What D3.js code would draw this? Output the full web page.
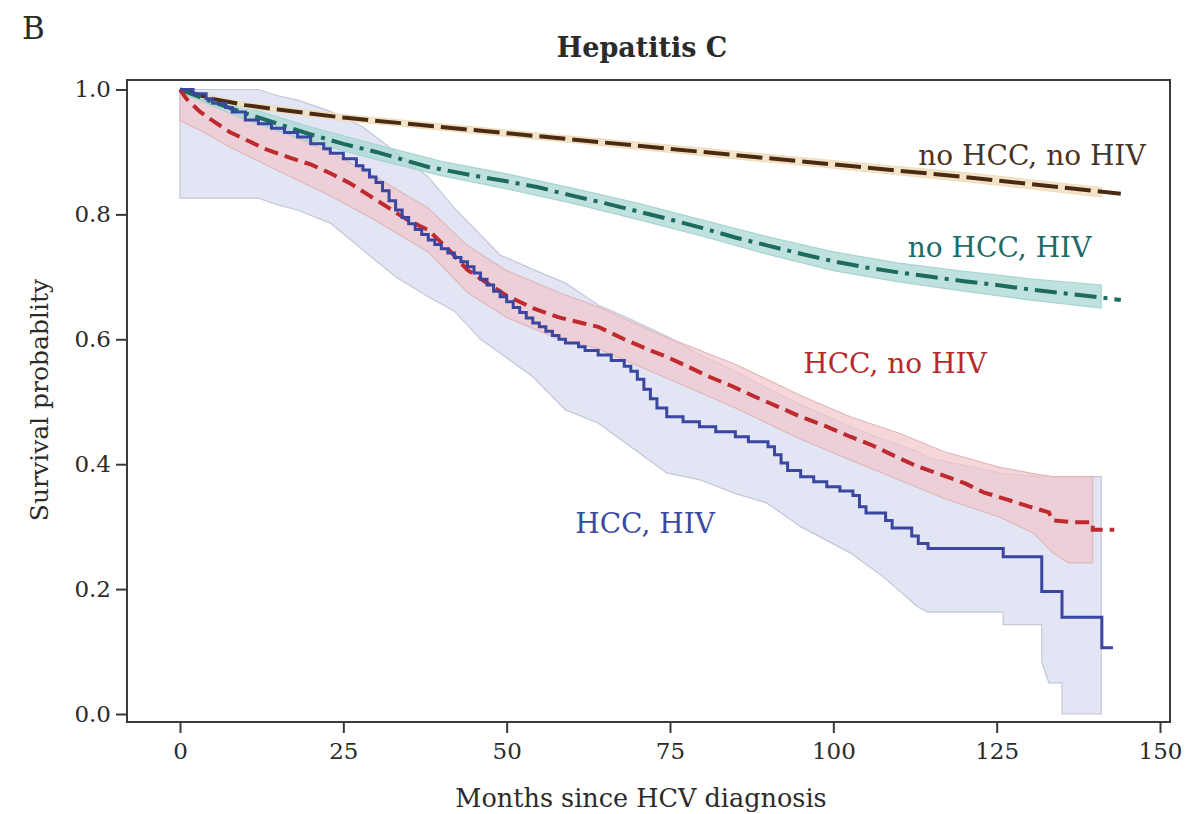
<!DOCTYPE html>
<html>
<head>
<meta charset="utf-8">
<script src="https://cdn.jsdelivr.net/npm/d3@7"></script>
<style>
  body { margin: 0; background: #fff; }
  svg text { font-family: "DejaVu Serif", "Liberation Serif", serif; fill: #2b2b2b; }
  .tick text { font-size: 23px; }
</style>
</head>
<body>
<div id="chart"></div>
<script>
// Kaplan-Meier estimates: [month, survival]
const hccHiv = [[0,1.0],[2,0.993],[4,0.985],[5,0.978],[7,0.971],[8,0.964],[10,0.951],[12,0.945],[14,0.938],[16,0.931],[18,0.924],[20,0.913],[22,0.905],[23,0.898],[25,0.889],[27,0.878],[28,0.871],[29,0.86],[30,0.851],[31,0.838],[32,0.822],[33,0.807],[34,0.795],[35,0.785],[36,0.776],[37,0.768],[38,0.759],[39,0.752],[40,0.745],[41,0.738],[42,0.731],[43,0.724],[44,0.716],[45,0.706],[46,0.696],[47,0.687],[48,0.677],[49,0.668],[50,0.66],[51,0.651],[52,0.643],[53,0.634],[54,0.626],[55,0.62],[56,0.613],[57,0.606],[58,0.6],[59,0.594],[61,0.588],[62,0.582],[64,0.575],[66,0.566],[68,0.557],[69,0.549],[70,0.536],[71,0.52],[72,0.505],[73,0.49],[74.5,0.476],[77,0.468],[79.5,0.46],[82,0.452],[85,0.444],[87,0.436],[90,0.428],[91,0.415],[92,0.402],[93,0.39],[95,0.38],[97,0.372],[99,0.364],[101,0.357],[103,0.35],[104,0.332],[105,0.322],[108,0.31],[109,0.298],[112,0.285],[113,0.273],[114.5,0.265],[126,0.252],[131.9,0.196],[135,0.155],[141.1,0.106],[142.8,0.106]];
const hccNoHiv = [[0,1.0],[1,0.985],[3,0.965],[5,0.95],[7.6,0.932],[10,0.92],[13,0.905],[17,0.89],[20,0.88],[23,0.866],[26,0.85],[29,0.83],[32,0.81],[35,0.79],[38,0.775],[41,0.745],[44,0.711],[47,0.69],[50,0.67],[54,0.65],[58,0.635],[62,0.625],[64,0.62],[68,0.6],[72,0.582],[74.5,0.572],[78,0.555],[81,0.54],[84.7,0.524],[88,0.508],[92,0.49],[95,0.476],[99,0.46],[102.6,0.444],[106,0.43],[110,0.41],[113,0.396],[116,0.385],[120,0.37],[123,0.355],[127,0.342],[130,0.332],[133,0.323],[133.5,0.31],[137,0.307],[139.7,0.307],[139.7,0.295],[143,0.295]];
const noHccHiv = [[0,1.0],[5,0.98],[10,0.962],[15,0.945],[20,0.928],[25,0.913],[30,0.9],[38,0.876],[45,0.862],[50,0.853],[55,0.843],[60,0.83],[65,0.818],[70,0.805],[75,0.792],[80,0.778],[85,0.763],[90,0.75],[95,0.737],[100,0.725],[105,0.715],[110,0.707],[115,0.7],[120,0.693],[125,0.687],[130,0.68],[135,0.674],[140,0.668],[144,0.663]];
const noHccNoHiv = [[0,1.0],[5,0.985],[10,0.975],[15,0.968],[25,0.955],[40,0.94],[60,0.92],[80,0.9],[100,0.88],[120,0.86],[144,0.833]];

// confidence bands: [month, lower, upper]
const hccHivBand = [[0,0.826,1.0],[12,0.826,1.0],[15,0.815,0.99],[18,0.807,0.983],[23,0.786,0.965],[28,0.743,0.94],[33,0.7,0.9],[38,0.668,0.86],[42,0.645,0.81],[46,0.6,0.767],[49,0.578,0.735],[54,0.54,0.712],[59,0.487,0.69],[64,0.466,0.655],[69,0.428,0.632],[74.5,0.386,0.605],[79.6,0.375,0.575],[84.7,0.354,0.55],[89.8,0.338,0.522],[95,0.3,0.495],[102.6,0.258,0.46],[107.6,0.22,0.44],[113,0.171,0.42],[114.5,0.163,0.41],[126,0.163,0.385],[126,0.143,0.385],[131.9,0.143,0.38],[131.9,0.083,0.38],[133,0.05,0.38],[135,0.05,0.38],[135,0.0,0.38],[141,0.0,0.38]];
const hccNoHivBand = [[0,0.95,1.0],[3,0.935,0.985],[7.6,0.908,0.962],[15,0.87,0.935],[23,0.83,0.9],[30,0.79,0.86],[38,0.74,0.81],[44,0.675,0.75],[50,0.635,0.71],[58,0.6,0.675],[64,0.585,0.652],[74,0.54,0.605],[85,0.49,0.56],[95,0.44,0.51],[102.6,0.407,0.476],[110,0.375,0.45],[117,0.345,0.42],[125.5,0.315,0.395],[130.6,0.29,0.385],[133.6,0.258,0.38],[136,0.242,0.38],[139.7,0.242,0.38]];
const noHccHivBand = [[0,0.995,1.0],[10,0.952,0.972],[20,0.916,0.94],[30,0.888,0.912],[40,0.862,0.885],[50,0.841,0.865],[60,0.818,0.842],[70,0.792,0.818],[80,0.765,0.791],[90,0.736,0.764],[100,0.71,0.74],[110,0.692,0.722],[120,0.677,0.709],[130,0.663,0.697],[141,0.65,0.687]];
const noHccNoHivBand = [[0,0.998,1.0],[10,0.971,0.979],[25,0.95,0.96],[40,0.935,0.945],[60,0.915,0.925],[80,0.894,0.906],[100,0.874,0.886],[120,0.853,0.867],[141,0.828,0.843]];

const xTicks = [0, 25, 50, 75, 100, 125, 150];
const yTicks = [0.0, 0.2, 0.4, 0.6, 0.8, 1.0];

const W = 1203, H = 814;
const box = { left: 127, top: 80, right: 1170, bottom: 722 };

const svg = d3.select("#chart").append("svg")
  .attr("width", W)
  .attr("height", H);

const x = d3.scaleLinear().domain([0, 150]).range([180, 1160]);
const y = d3.scaleLinear().domain([0, 1]).range([714, 89.5]);

// bands first
function drawBand(data, fill, stroke, opacity) {
  const area = d3.area()
    .x(d => x(d[0]))
    .y0(d => y(d[1]))
    .y1(d => y(d[2]));
  svg.append("path")
    .datum(data)
    .attr("d", area)
    .attr("fill", fill)
    .attr("fill-opacity", opacity)
    .attr("stroke", stroke)
    .attr("stroke-width", 1.2);
}
drawBand(hccHivBand, "#d9def1", "#c3c7d6", 0.8);
drawBand(hccNoHivBand, "#f1c6cb", "#e0b8bc", 0.7);
drawBand(noHccHivBand, "#aad8d4", "#a6d4d0", 0.75);
drawBand(noHccNoHivBand, "#f3e2c4", "#efdcbc", 0.9);

function drawLine(data, color, width, dash, curve) {
  const line = d3.line()
    .x(d => x(d[0]))
    .y(d => y(d[1]))
    .curve(curve);
  svg.append("path")
    .datum(data)
    .attr("d", line)
    .attr("fill", "none")
    .attr("stroke", color)
    .attr("stroke-width", width)
    .attr("stroke-dasharray", dash);
}
drawLine(noHccNoHiv, "#4a2a12", 4, "26,7", d3.curveLinear);
drawLine(noHccHiv, "#1d6a5e", 4, "22,7,4,7", d3.curveLinear);
drawLine(hccNoHiv, "#bf2a2e", 4, "14,7", d3.curveLinear);
drawLine(hccHiv, "#3a46a0", 3, null, d3.curveStepAfter);

// frame
svg.append("rect")
  .attr("x", box.left)
  .attr("y", box.top)
  .attr("width", box.right - box.left)
  .attr("height", box.bottom - box.top)
  .attr("fill", "none")
  .attr("stroke", "#3a3a3a")
  .attr("stroke-width", 2);

const xAxis = svg.append("g")
  .attr("transform", `translate(0,${box.bottom})`)
  .call(d3.axisBottom(x).tickValues(xTicks).tickSize(11).tickPadding(10).tickFormat(d3.format("d")));
xAxis.select(".domain").remove();

const yAxis = svg.append("g")
  .attr("transform", `translate(${box.left},0)`)
  .call(d3.axisLeft(y).tickValues(yTicks).tickSize(11).tickPadding(5).tickFormat(d3.format(".1f")));
yAxis.select(".domain").remove();

svg.selectAll(".tick line").attr("stroke", "#3a3a3a").attr("stroke-width", 2);
svg.selectAll(".tick text").attr("fill", "#2b2b2b").style("font-family", '"DejaVu Serif", serif');

// titles
svg.append("text")
  .attr("x", 22).attr("y", 39)
  .style("font-size", "31px")
  .text("B");

svg.append("text")
  .attr("x", 642).attr("y", 57)
  .attr("text-anchor", "middle")
  .style("font-size", "27px")
  .style("font-weight", "bold")
  .text("Hepatitis C");

svg.append("text")
  .attr("x", 641).attr("y", 807)
  .attr("text-anchor", "middle")
  .style("font-size", "25.5px")
  .text("Months since HCV diagnosis");

svg.append("text")
  .attr("transform", "translate(48,400) rotate(-90)")
  .attr("text-anchor", "middle")
  .style("font-size", "25px")
  .text("Survival probablity");

// curve labels
const labels = [
  { text: "no HCC, no HIV", m: 113, p: 0.879, color: "#4a3320" },
  { text: "no HCC, HIV", m: 111.4, p: 0.732, color: "#1d6b66" },
  { text: "HCC, no HIV", m: 95.4, p: 0.546, color: "#b52a2e" },
  { text: "HCC, HIV", m: 60.5, p: 0.29, color: "#3a4aa0" }
];
svg.selectAll("text.curve-label")
  .data(labels)
  .enter()
  .append("text")
  .attr("class", "curve-label")
  .attr("x", d => x(d.m))
  .attr("y", d => y(d.p))
  .style("font-size", "28px")
  .style("fill", d => d.color)
  .text(d => d.text);
</script>
</body>
</html>
